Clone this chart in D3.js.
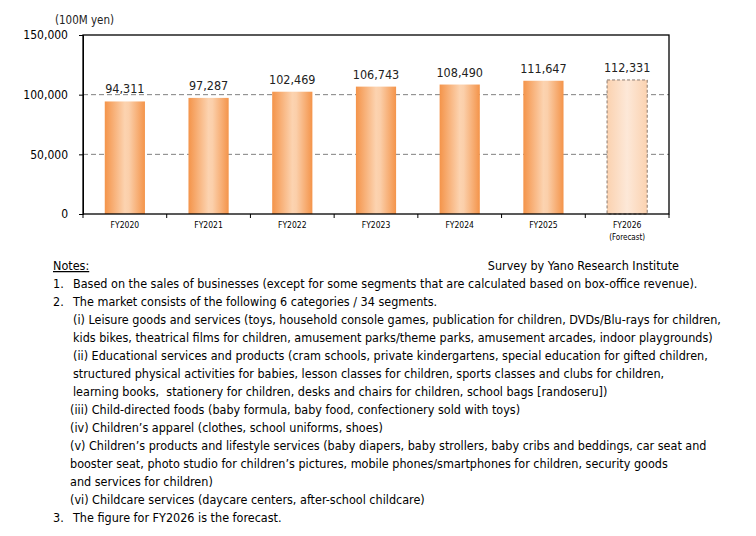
<!DOCTYPE html>
<html><head><meta charset="utf-8">
<script src="https://cdn.jsdelivr.net/npm/d3@7"></script>
<style>
body{margin:0;background:#fff;}
svg{display:block;}
</style></head>
<body>
<svg id="c" width="756" height="536"></svg>
<script>
const categories = ["FY2020","FY2021","FY2022","FY2023","FY2024","FY2025","FY2026"];
const subLabels = ["","","","","","","(Forecast)"];
const values = [94311, 97287, 102469, 106743, 108490, 111647, 112331];
const forecast = [false,false,false,false,false,false,true];
const yTicks = [0, 50000, 100000, 150000];
const unitLabel = "(100M yen)";
const sourceLabel = "Survey by Yano Research Institute";
const notesTitle = "Notes:";
const notes = [
  {num:"1.", text:"Based on the sales of businesses (except for some segments that are calculated based on box-office revenue).", ind:0},
  {num:"2.", text:"The market consists of the following 6 categories / 34 segments.", ind:0},
  {num:"", text:"(i) Leisure goods and services (toys, household console games, publication for children, DVDs/Blu-rays for children,", ind:1},
  {num:"", text:"kids bikes, theatrical films for children, amusement parks/theme parks, amusement arcades, indoor playgrounds)", ind:1},
  {num:"", text:"(ii) Educational services and products (cram schools, private kindergartens, special education for gifted children,", ind:1},
  {num:"", text:"structured physical activities for babies, lesson classes for children, sports classes and clubs for children,", ind:1},
  {num:"", text:"learning books,  stationery for children, desks and chairs for children, school bags [randoseru])", ind:1},
  {num:"", text:"(iii) Child-directed foods (baby formula, baby food, confectionery sold with toys)", ind:2},
  {num:"", text:"(iv) Children\u2019s apparel (clothes, school uniforms, shoes)", ind:2},
  {num:"", text:"(v) Children\u2019s products and lifestyle services (baby diapers, baby strollers, baby cribs and beddings, car seat and", ind:2},
  {num:"", text:"booster seat, photo studio for children\u2019s pictures, mobile phones/smartphones for children, security goods", ind:2},
  {num:"", text:"and services for children)", ind:2},
  {num:"", text:"(vi) Childcare services (daycare centers, after-school childcare)", ind:2},
  {num:"3.", text:"The figure for FY2026 is the forecast.", ind:0}
];

const svg = d3.select("#c");
const L = 83, R = 669, T = 35, B = 214;
const x = d3.scaleBand().domain(categories).range([L, R]).paddingInner(0.52).paddingOuter(0.26);
const y = d3.scaleLinear().domain([0, 150000]).range([B, T]);

const defs = svg.append("defs");
const g1 = defs.append("linearGradient").attr("id","gBar").attr("x1","0").attr("x2","1").attr("y1","0").attr("y2","0");
[[0,"#f4944a"],[0.5,"#fcd3b0"],[0.6,"#fbcfaa"],[1,"#f4944a"]].forEach(s=>g1.append("stop").attr("offset",s[0]).attr("stop-color",s[1]));
const g2 = defs.append("linearGradient").attr("id","gFc").attr("x1","0").attr("x2","1").attr("y1","0").attr("y2","0");
[[0,"#fbd2b0"],[0.5,"#fde8d8"],[1,"#fbd2b0"]].forEach(s=>g2.append("stop").attr("offset",s[0]).attr("stop-color",s[1]));

// gridlines
svg.append("g").selectAll("line").data(yTicks.filter(d=>d>0 && d<150000)).join("line")
  .attr("x1",L).attr("x2",R).attr("y1",d=>y(d)).attr("y2",d=>y(d))
  .attr("stroke","#808080").attr("stroke-width",1).attr("stroke-dasharray","5,3");

// bars
svg.append("g").selectAll("rect").data(values).join("rect")
  .attr("x",(d,i)=>x(categories[i]))
  .attr("width",x.bandwidth())
  .attr("y",d=>y(d))
  .attr("height",d=>B-y(d))
  .attr("fill",(d,i)=>forecast[i]?"url(#gFc)":"url(#gBar)")
  .attr("stroke",(d,i)=>forecast[i]?"#8a7a70":"none")
  .attr("stroke-dasharray",(d,i)=>forecast[i]?"3,2":null)
  .attr("stroke-width",1);

// value labels
svg.append("g").selectAll("text").data(values).join("text")
  .attr("x",(d,i)=>x(categories[i])+x.bandwidth()/2)
  .attr("y",d=>y(d)-8)
  .attr("text-anchor","middle")
  .attr("font-family","'DejaVu Sans Condensed','DejaVu Sans',sans-serif")
  .attr("font-size","12.5px").attr("fill","#222")
  .text(d=>d3.format(",")(d));

// frame
svg.append("rect").attr("x",L).attr("y",T).attr("width",R-L).attr("height",B-T)
  .attr("fill","none").attr("stroke","#000").attr("stroke-width",1.3);

// y axis
const yAxis = d3.axisLeft(y).tickValues(yTicks).tickSize(4).tickFormat(d3.format(","));
const ya = svg.append("g").attr("transform",`translate(${L},0)`).call(yAxis);
ya.select(".domain").attr("stroke","#000");
ya.selectAll(".tick line").attr("stroke","#000");
ya.selectAll("text").attr("font-family","'Liberation Sans Narrow','DejaVu Sans Condensed',sans-serif")
  .attr("font-size","12px").attr("fill","#000").attr("x",-15);

// x axis ticks at boundaries
const step = x.step();
const bounds = categories.map(c=>x(c)-(step-x.bandwidth())/2).concat([R]);
svg.append("g").selectAll("line").data(bounds).join("line")
  .attr("x1",d=>d).attr("x2",d=>d).attr("y1",B).attr("y2",B+4).attr("stroke","#000");

svg.append("g").selectAll("text").data(categories).join("text")
  .attr("x",d=>x(d)+x.bandwidth()/2).attr("y",228)
  .attr("text-anchor","middle")
  .attr("font-family","'DejaVu Sans Condensed','DejaVu Sans',sans-serif")
  .attr("font-size","8.5px").attr("fill","#000")
  .text(d=>d);
svg.append("g").selectAll("text").data(subLabels).join("text")
  .attr("x",(d,i)=>x(categories[i])+x.bandwidth()/2).attr("y",240)
  .attr("text-anchor","middle")
  .attr("font-family","'DejaVu Sans Condensed','DejaVu Sans',sans-serif")
  .attr("font-size","8px").attr("fill","#000")
  .text(d=>d);

// unit label
svg.append("text").attr("x",55).attr("y",24)
  .attr("font-family","'DejaVu Sans Condensed','DejaVu Sans',sans-serif")
  .attr("font-size","11.5px").attr("fill","#222").text(unitLabel);

// notes
const nf = "'DejaVu Sans Condensed','DejaVu Sans',sans-serif";
const probe = svg.append("text").attr("font-family",nf).attr("font-size","12px").text(notes[0].text);
const w12 = probe.node().getComputedTextLength();
probe.remove();
const fs = 12 * 625 / w12;
const lh = 18, y0n = 270;
svg.append("text").attr("x",53).attr("y",y0n).attr("font-family",nf).attr("font-size",fs+"px")
  .attr("fill","#000").attr("text-decoration","underline").text(notesTitle);
svg.append("text").attr("x",679).attr("y",y0n).attr("text-anchor","end").attr("font-family",nf).attr("font-size",fs+"px")
  .attr("fill","#000").text(sourceLabel);
const indX = [73, 73, 70];
notes.forEach((n,i)=>{
  const yy = y0n + lh*(i+1);
  if(n.num) svg.append("text").attr("x",53).attr("y",yy).attr("font-family",nf).attr("font-size",fs+"px").attr("fill","#000").text(n.num);
  svg.append("text").attr("x",indX[n.ind]).attr("y",yy).attr("font-family",nf).attr("font-size",fs+"px").attr("fill","#000").style("white-space","pre").text(n.text);
});
</script>
</body></html>
